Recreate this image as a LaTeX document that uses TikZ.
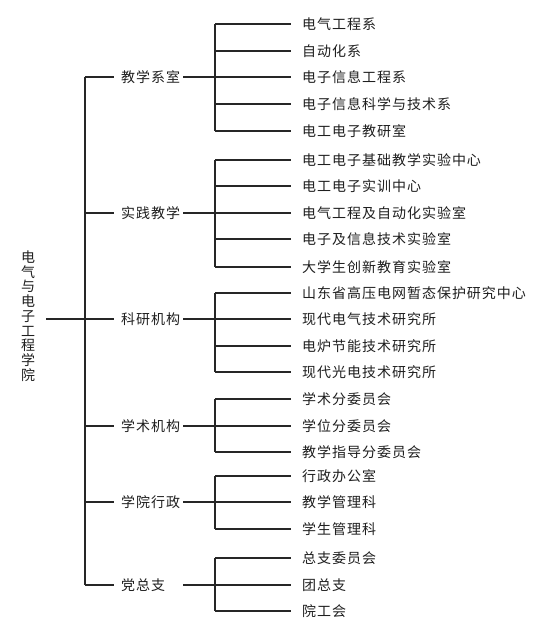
\documentclass[tikz,border=0pt]{standalone}
\usepackage{fontspec}
\newfontfamily\cjk{Noto Sans CJK SC}
\newfontfamily\cjksp[LetterSpace=7]{Noto Sans CJK SC}
\begin{document}
\begin{tikzpicture}[x=1pt,y=-1pt,
  lbl/.style={font=\cjksp\fontsize{14}{14}\selectfont, anchor=west, inner sep=0pt, text=black!88},
  wire/.style={draw=black!85, line width=1.2pt}]
\fill[white] (0,0) rectangle (542,636);
\useasboundingbox (0,0) rectangle (542,636);

% root
\node[font=\cjk\fontsize{14}{14.7}\selectfont, align=center, inner sep=0pt, text=black!88] (root) at (28,316)
  {电\\气\\与\\电\\子\\工\\程\\学\\院};
\coordinate (rootR) at (46,319);
\coordinate (trunkM) at (85,319);
\coordinate (trunkT) at (85,77);
\coordinate (trunkB) at (85,585);
\draw[wire] (rootR) -- (trunkM);
\draw[wire] (trunkT) -- (trunkB);

% level 1
\foreach \n/\y/\t/\f/\l in {a/77/教学系室/24/131, b/213/实践教学/160/267, c/319/科研机构/293/372, d/426/学术机构/399/452, e/502/学院行政/476/529, f/585/党总支/558/611}{
  \node[lbl] (\n) at (121,\y) {\t};
  \coordinate (\n L) at (85,\y);
  \coordinate (\n R) at (183,\y);
  \coordinate (\n S) at (215,\y);
  \coordinate (\n T) at (215,\f);
  \coordinate (\n B) at (215,\l);
  \draw[wire] (\n L) -- ([xshift=-7pt]\n.west);
  \draw[wire] (\n R) -- (\n S);
  \draw[wire] (\n T) -- (\n B);
}

% level 2
\foreach \p/\i/\y/\t in {
  a/1/24/电气工程系, a/2/51/自动化系, a/3/77/电子信息工程系, a/4/104/电子信息科学与技术系, a/5/131/电工电子教研室,
  b/1/160/电工电子基础教学实验中心, b/2/186/电工电子实训中心, b/3/213/电气工程及自动化实验室, b/4/239/电子及信息技术实验室, b/5/267/大学生创新教育实验室,
  c/1/293/山东省高压电网暂态保护研究中心, c/2/319/现代电气技术研究所, c/3/346/电炉节能技术研究所, c/4/372/现代光电技术研究所,
  d/1/399/学术分委员会, d/2/426/学位分委员会, d/3/452/教学指导分委员会,
  e/1/476/行政办公室, e/2/502/教学管理科, e/3/529/学生管理科,
  f/1/558/总支委员会, f/2/585/团总支, f/3/611/院工会}{
  \node[lbl] (\p\i) at (302,\y) {\t};
  \coordinate (\p\i J) at (215,\y);
  \draw[wire] (\p\i J) -- ([xshift=-11pt]\p\i.west);
}
\end{tikzpicture}
\end{document}
